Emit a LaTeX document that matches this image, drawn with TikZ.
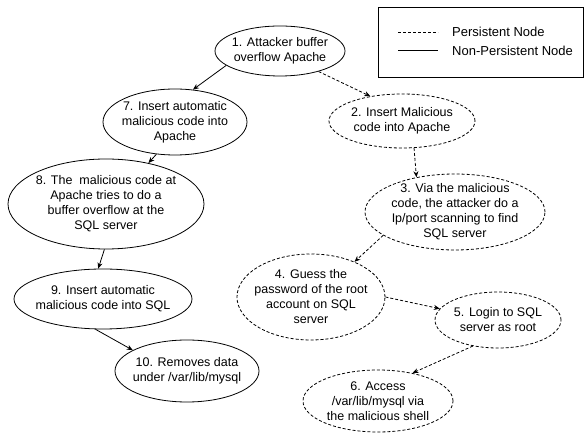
\documentclass[tikz,border=0pt]{standalone}
\usepackage{fontspec}
\setmainfont{Liberation Sans}
\usetikzlibrary{shapes.geometric,arrows.meta}
\tikzset{
  stp/.style={ellipse, draw, line width=0.8pt, align=center, inner xsep=-30pt, inner ysep=-20pt,
    font=\fontsize{12.5}{15}\selectfont},
  pers/.style={stp, dash pattern=on 3pt off 2pt},
  npers/.style={stp},
  conn/.style={line width=0.8pt, -{Stealth[length=6pt,width=5pt]}},
  dconn/.style={conn, dash pattern=on 3pt off 2pt},
}
\begin{document}
\begin{tikzpicture}[x=1pt,y=-1pt]
\useasboundingbox (0,0) rectangle (587,435);
% legend
\draw[line width=0.8pt] (378,7) rectangle (583,77);
\coordinate (la) at (398,32); \coordinate (lb) at (438,32);
\coordinate (lc) at (398,50); \coordinate (ld) at (438,50);
\draw[line width=0.8pt, dash pattern=on 3pt off 2pt] (la) -- (lb);
\draw[line width=0.8pt] (lc) -- (ld);
\node[anchor=west, inner sep=0pt, font=\fontsize{13}{15}\selectfont] (lt1) at (452,32) {Persistent Node};
\node[anchor=west, inner sep=0pt, font=\fontsize{13}{15}\selectfont] (lt2) at (452,51) {Non-Persistent Node};
% nodes
\node[npers, minimum width=130pt, minimum height=50pt] (n1) at (280,51) {1. Attacker buffer\\overflow Apache};
\node[pers, minimum width=146pt, minimum height=54pt] (n2) at (402,121) {2. Insert Malicious\\code into Apache};
\node[pers, minimum width=180pt, minimum height=76pt] (n3) at (455,212) {3. Via the malicious\\code, the attacker do a\\Ip/port scanning to find\\SQL server};
\node[pers, minimum width=148pt, minimum height=86pt] (n4) at (311,297) {4. Guess the\\password of the root\\account on SQL\\server};
\node[pers, minimum width=126pt, minimum height=56pt] (n5) at (498,320) {5. Login to SQL\\server as root};
\node[pers, minimum width=150pt, minimum height=62pt] (n6) at (378,401) {6. Access\\/var/lib/mysql via\\the malicious shell};
\node[npers, minimum width=144pt, minimum height=66pt] (n7) at (175,122) {7. Insert automatic\\malicious code into\\Apache};
\node[npers, minimum width=196pt, minimum height=90pt] (n8) at (106,204) {8. The\ \ malicious code at\\Apache tries to do a\\buffer overflow at the\\SQL server};
\node[npers, minimum width=178pt, minimum height=60pt] (n9) at (103,299) {9. Insert automatic\\malicious code into SQL};
\node[npers, minimum width=144pt, minimum height=62pt] (n10) at (187,371) {10. Removes data\\under /var/lib/mysql};
% connectors
\draw[conn] (n1.195) -- (n7.61);
\draw[dconn] (n1.332) -- (n2.142);
\draw[conn] (n7.240) -- (n8.44);
\draw[dconn] (n2.294) -- (n3.138);
\draw[dconn] (n3.198) -- (n4.39);
\draw[conn] (n8.268) -- (n9.99);
\draw[dconn] (n4.0) -- (n5.169);
\draw[conn] (n9.256) -- (n10.159);
\draw[dconn] (n5.226) -- (n6.39);
\end{tikzpicture}
\end{document}
